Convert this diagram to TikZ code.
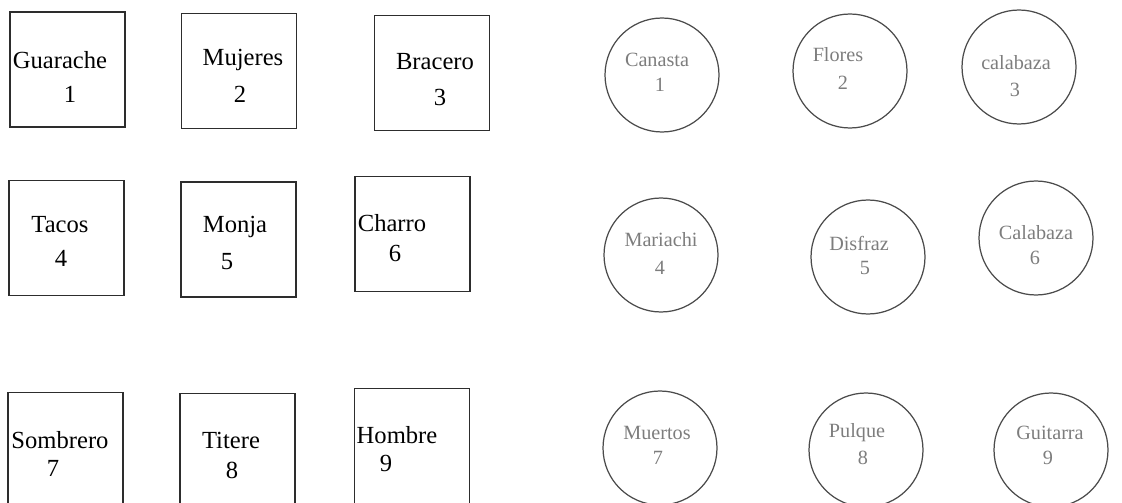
\documentclass[tikz,border=0pt]{standalone}
\usepackage{fontspec}
\setmainfont{Liberation Serif}
\usetikzlibrary{positioning}
\definecolor{cardInk}{RGB}{45,45,45}
\definecolor{ringInk}{RGB}{75,75,75}
\definecolor{ringText}{RGB}{125,125,125}
\tikzset{
  sqbox/.style={draw=cardInk,line width=0.8pt,minimum width=2.3cm,minimum height=2.3cm,inner sep=0pt},
  ringbox/.style={circle,draw=ringInk,line width=0.7pt,minimum size=2.28cm,inner sep=0pt},
  sqword/.style={font=\fontsize{14}{16}\selectfont,text=black,inner sep=0pt},
  ringword/.style={font=\fontsize{11.5}{14}\selectfont,text=ringText,inner sep=0pt}
}

\begin{document}
\begin{tikzpicture}[x=0.02cm,y=-0.02cm]
  \useasboundingbox (0,0) rectangle (1122,503);
  % squares
  \node[sqbox] (sq1) at (67.5,69.5) {};
  \node[sqbox] (sq2) at (239,71) {};
  \node[sqbox] (sq3) at (432,73) {};
  \node[sqbox] (sq4) at (66.5,238) {};
  \node[sqbox] (sq5) at (238.5,239.5) {};
  \node[sqbox] (sq6) at (412.5,234) {};
  \node[sqbox] (sq7) at (65.5,450) {};
  \node[sqbox] (sq8) at (237.5,451) {};
  \node[sqbox] (sq9) at (412,446) {};
  \node[sqword] (sqw1) at (60,60) {Guarache};
  \node[sqword] (sqn1) at (70,94) {1};
  \node[sqword] (sqw2) at (243,60) {Mujeres};
  \node[sqword] (sqn2) at (240,94) {2};
  \node[sqword] (sqw3) at (435,62) {Bracero};
  \node[sqword] (sqn3) at (440,97) {3};
  \node[sqword] (sqw4) at (60,225) {Tacos};
  \node[sqword] (sqn4) at (61,258) {4};
  \node[sqword] (sqw5) at (235,227) {Monja};
  \node[sqword] (sqn5) at (227,262) {5};
  \node[sqword] (sqw6) at (392,223) {Charro};
  \node[sqword] (sqn6) at (395,253) {6};
  \node[sqword] (sqw7) at (60,440) {Sombrero};
  \node[sqword] (sqn7) at (53,468) {7};
  \node[sqword] (sqw8) at (231,440) {Titere};
  \node[sqword] (sqn8) at (232,470) {8};
  \node[sqword] (sqw9) at (397,435) {Hombre};
  \node[sqword] (sqn9) at (386,463) {9};
  % circles
  \node[ringbox] (rg1) at (662,75) {};
  \node[ringbox] (rg2) at (850,71) {};
  \node[ringbox] (rg3) at (1019,67) {};
  \node[ringbox] (rg4) at (661,255) {};
  \node[ringbox] (rg5) at (868,257) {};
  \node[ringbox] (rg6) at (1036,238) {};
  \node[ringbox] (rg7) at (660,448) {};
  \node[ringbox] (rg8) at (866,450) {};
  \node[ringbox] (rg9) at (1051,450) {};
  \node[ringword] (rgw1) at (657,60) {Canasta};
  \node[ringword] (rgn1) at (660,85) {1};
  \node[ringword] (rgw2) at (838,55) {Flores};
  \node[ringword] (rgn2) at (843,83) {2};
  \node[ringword] (rgw3) at (1016,63) {calabaza};
  \node[ringword] (rgn3) at (1015,90) {3};
  \node[ringword] (rgw4) at (661,240) {Mariachi};
  \node[ringword] (rgn4) at (660,268) {4};
  \node[ringword] (rgw5) at (859,243) {Disfraz};
  \node[ringword] (rgn5) at (865,268) {5};
  \node[ringword] (rgw6) at (1036,233) {Calabaza};
  \node[ringword] (rgn6) at (1035,258) {6};
  \node[ringword] (rgw7) at (657,433) {Muertos};
  \node[ringword] (rgn7) at (658,458) {7};
  \node[ringword] (rgw8) at (857,433) {Pulque};
  \node[ringword] (rgn8) at (863,458) {8};
  \node[ringword] (rgw9) at (1050,433) {Guitarra};
  \node[ringword] (rgn9) at (1048,458) {9};
\end{tikzpicture}
\end{document}
